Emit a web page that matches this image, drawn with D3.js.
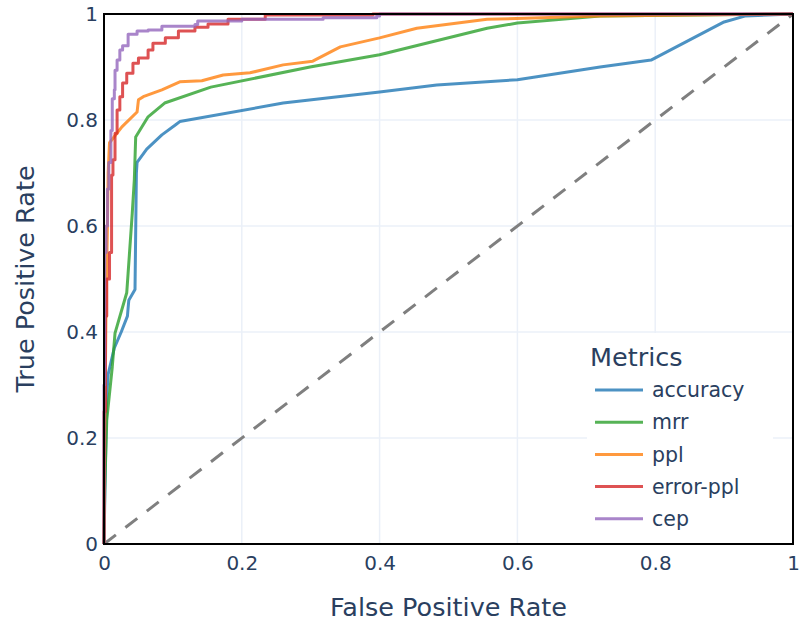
<!DOCTYPE html>
<html>
<head>
<style>
  body { margin: 0; background: #fff; }
  text { font-family: "DejaVu Sans", sans-serif; fill: #2a3f5f; }
</style>
</head>
<body>
<script src="https://d3js.org/d3.v7.min.js"></script>
<script>

// ROC points: [fpr, tpr]
const accuracy = [[0,0],[0.002,0.15],[0.004,0.28],[0.006,0.32],[0.015,0.37],[0.025,0.40],[0.034,0.43],[0.036,0.46],[0.045,0.48],[0.047,0.70],[0.048,0.72],[0.062,0.745],[0.084,0.772],[0.103,0.79],[0.11,0.797],[0.26,0.832],[0.40,0.853],[0.483,0.866],[0.60,0.876],[0.72,0.90],[0.794,0.913],[0.90,0.985],[0.93,0.996],[1,1]];
const mrr = [[0,0],[0.001,0.10],[0.004,0.234],[0.012,0.334],[0.016,0.398],[0.033,0.474],[0.035,0.511],[0.041,0.624],[0.044,0.687],[0.046,0.768],[0.064,0.806],[0.088,0.832],[0.155,0.862],[0.299,0.90],[0.40,0.923],[0.556,0.973],[0.60,0.983],[0.72,0.996],[1,1]];
const ppl = [[0,0],[0.001,0.2],[0.003,0.45],[0.005,0.6],[0.006,0.7],[0.008,0.757],[0.026,0.787],[0.048,0.815],[0.05,0.838],[0.057,0.844],[0.084,0.857],[0.11,0.872],[0.142,0.874],[0.173,0.885],[0.212,0.889],[0.26,0.904],[0.303,0.911],[0.343,0.938],[0.40,0.955],[0.454,0.973],[0.556,0.99],[0.72,0.996],[1,1]];
const errorPpl = [[0,0],[0.002,0.25],[0.004,0.43],[0.008,0.5],[0.011,0.55],[0.011,0.65],[0.013,0.696],[0.016,0.725],[0.019,0.775],[0.023,0.819],[0.027,0.844],[0.033,0.87],[0.042,0.888],[0.05,0.907],[0.064,0.917],[0.071,0.932],[0.089,0.945],[0.108,0.955],[0.132,0.968],[0.151,0.975],[0.18,0.981],[0.234,0.99],[0.39,0.998],[0.45,1],[1,1]];
const cep = [[0,0],[0.001,0.3],[0.003,0.55],[0.005,0.6],[0.007,0.67],[0.01,0.72],[0.012,0.78],[0.015,0.84],[0.016,0.857],[0.019,0.894],[0.023,0.913],[0.027,0.932],[0.035,0.94],[0.048,0.962],[0.064,0.968],[0.084,0.97],[0.132,0.977],[0.136,0.98],[0.2,0.987],[0.318,0.99],[0.396,0.993],[0.4,0.996],[0.6,1],[1,1]];

const metricNames = ['accuracy', 'mrr', 'ppl', 'error-ppl', 'cep'];
const metricData = [accuracy, mrr, ppl, errorPpl, cep];
const colors = ['#1f77b4', '#2ca02c', '#ff7f0e', '#d62728', '#9467bd'];
const ticks = [0, 0.2, 0.4, 0.6, 0.8, 1];

const width = 799;
const height = 624;
const margin = {top: 14, right: 6, bottom: 80, left: 104};

const svg = d3.select('body')
              .append('svg')
              .attr('width', width)
              .attr('height', height);

const x = d3.scaleLinear().domain([0, 1]).range([margin.left, width - margin.right]);
const y = d3.scaleLinear().domain([0, 1]).range([height - margin.bottom, margin.top]);

// grid
svg.append('g')
   .selectAll('line.gx')
   .data(ticks.slice(1, -1))
   .enter().append('line')
   .attr('x1', d => x(d)).attr('x2', d => x(d))
   .attr('y1', y(0)).attr('y2', y(1))
   .attr('stroke', '#ebf0f8').attr('stroke-width', 1.5);

svg.append('g')
   .selectAll('line.gy')
   .data(ticks.slice(1, -1))
   .enter().append('line')
   .attr('x1', x(0)).attr('x2', x(1))
   .attr('y1', d => y(d)).attr('y2', d => y(d))
   .attr('stroke', '#ebf0f8').attr('stroke-width', 1.5);

// diagonal
svg.append('line')
   .attr('x1', x(0)).attr('y1', y(0))
   .attr('x2', x(1)).attr('y2', y(1))
   .attr('stroke', '#7f7f7f')
   .attr('stroke-width', 3)
   .attr('stroke-dasharray', '15,12');

// curves
const line = d3.line().x(d => x(d[0])).y(d => y(d[1]));
const stepLine = d3.line().x(d => x(d[0])).y(d => y(d[1])).curve(d3.curveStepBefore);

svg.append('g')
   .selectAll('path')
   .data(metricData)
   .enter().append('path')
   .attr('d', (d, i) => (i >= 3 ? stepLine(d) : line(d)))
   .attr('fill', 'none')
   .attr('stroke', (d, i) => colors[i])
   .attr('stroke-opacity', 0.8)
   .attr('stroke-width', 3)
   .attr('stroke-linejoin', 'round');

// legend
const leg = svg.append('g');
leg.append('rect')
   .attr('x', 587).attr('y', 333)
   .attr('width', 186).attr('height', 210)
   .attr('fill', '#fff');
leg.append('text')
   .attr('x', 590).attr('y', 366)
   .attr('font-size', 25.5)
   .text('Metrics');
const items = leg.selectAll('g.item')
   .data(metricNames)
   .enter().append('g')
   .attr('transform', (d, i) => `translate(0, ${390 + i * 32.2})`);
items.append('line')
   .attr('x1', 595).attr('x2', 643)
   .attr('stroke', (d, i) => colors[i])
   .attr('stroke-opacity', 0.8)
   .attr('stroke-width', 3);
items.append('text')
   .attr('x', 652).attr('dy', '0.35em')
   .attr('font-size', 20.5)
   .text(d => d);

// frame
svg.append('rect')
   .attr('x', x(0)).attr('y', y(1))
   .attr('width', x(1) - x(0)).attr('height', y(0) - y(1))
   .attr('fill', 'none')
   .attr('stroke', '#000')
   .attr('stroke-width', 2);

// axes
const fmt = d => (d === 0 || d === 1 ? String(d) : d.toFixed(1));
const xAxis = svg.append('g')
   .attr('transform', `translate(0, ${y(0)})`)
   .call(d3.axisBottom(x).tickValues(ticks).tickFormat(fmt).tickSize(0).tickPadding(12));
const yAxis = svg.append('g')
   .attr('transform', `translate(${x(0)}, 0)`)
   .call(d3.axisLeft(y).tickValues(ticks).tickFormat(fmt).tickSize(0).tickPadding(6));
[xAxis, yAxis].forEach(a => {
  a.select('.domain').remove();
  a.selectAll('text').attr('font-size', 20).attr('font-family', '"DejaVu Sans", sans-serif').attr('fill', '#2a3f5f');
});

svg.append('text')
   .attr('x', (x(0) + x(1)) / 2).attr('y', 616)
   .attr('text-anchor', 'middle')
   .attr('font-size', 25.5)
   .text('False Positive Rate');

svg.append('text')
   .attr('transform', `translate(25, ${(y(0) + y(1)) / 2}) rotate(-90)`)
   .attr('text-anchor', 'middle')
   .attr('dy', '0.35em')
   .attr('font-size', 25.5)
   .text('True Positive Rate');

</script>
</body>
</html>
